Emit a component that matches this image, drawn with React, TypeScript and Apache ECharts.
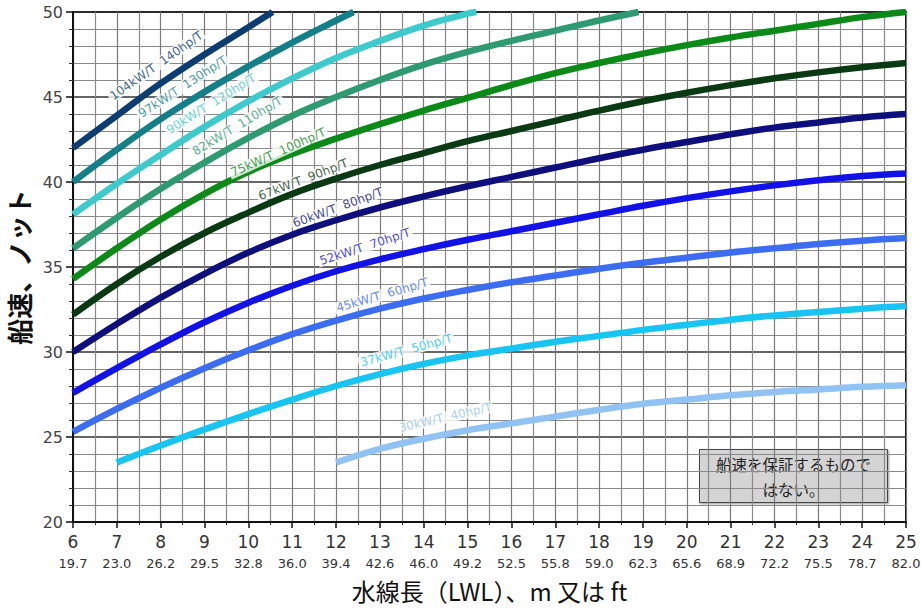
import React, { useEffect, useRef } from "react";
import * as echarts from "echarts";

const meterTicks = [6, 7, 8, 9, 10, 11, 12, 13, 14, 15, 16, 17, 18, 19, 20, 21, 22, 23, 24, 25];
const feetTicks = ["19.7", "23.0", "26.2", "29.5", "32.8", "36.0", "39.4", "42.6", "46.0", "49.2", "52.5", "55.8", "59.0", "62.3", "65.6", "68.9", "72.2", "75.5", "78.7", "82.0"];

const c104 = [[6, 42.0], [7, 43.9], [8, 45.8], [9, 47.5], [10, 49.1], [10.55, 50.0]];
const c97 = [[6, 40.0], [7, 41.9], [8, 43.7], [9, 45.3], [10, 46.8], [11, 48.2], [12, 49.5], [12.4, 50.0]];
const c90 = [[6, 38.1], [7, 39.9], [8, 41.6], [9, 43.25], [10, 44.75], [11, 46.1], [12, 47.3], [13, 48.3], [14, 49.2], [15, 49.9], [15.2, 50.0]];
const c82 = [[6, 36.1], [7, 37.9], [8, 39.6], [9, 41.15], [10, 42.6], [11, 43.9], [12, 45.0], [13, 46.0], [14, 46.9], [15, 47.65], [16, 48.3], [17, 48.9], [18, 49.5], [18.9, 50.0]];
const c75 = [[6, 34.3], [7, 36.1], [8, 37.8], [9, 39.3], [10, 40.6], [11, 41.65], [12, 42.55], [13, 43.4], [14, 44.2], [15, 44.95], [16, 45.7], [17, 46.4], [18, 47.0], [19, 47.55], [20, 48.05], [21, 48.5], [22, 48.9], [23, 49.3], [24, 49.7], [25, 50.0]];
const c67 = [[6, 32.2], [7, 34.0], [8, 35.6], [9, 37.0], [10, 38.2], [11, 39.3], [12, 40.2], [13, 41.0], [14, 41.7], [15, 42.4], [16, 43.0], [17, 43.6], [18, 44.2], [19, 44.75], [20, 45.25], [21, 45.7], [22, 46.1], [23, 46.45], [24, 46.75], [25, 47.0]];
const c60 = [[6, 30.0], [7, 31.65], [8, 33.2], [9, 34.6], [10, 35.85], [11, 36.9], [12, 37.75], [13, 38.5], [14, 39.15], [15, 39.75], [16, 40.3], [17, 40.85], [18, 41.4], [19, 41.9], [20, 42.35], [21, 42.8], [22, 43.2], [23, 43.5], [24, 43.8], [25, 44.0]];
const c52 = [[6, 27.6], [7, 29.05], [8, 30.45], [9, 31.75], [10, 32.9], [11, 33.9], [12, 34.75], [13, 35.45], [14, 36.05], [15, 36.6], [16, 37.1], [17, 37.6], [18, 38.1], [19, 38.6], [20, 39.05], [21, 39.45], [22, 39.8], [23, 40.1], [24, 40.35], [25, 40.5]];
const c45 = [[6, 25.3], [7, 26.65], [8, 27.9], [9, 29.05], [10, 30.1], [11, 31.05], [12, 31.85], [13, 32.55], [14, 33.15], [15, 33.65], [16, 34.1], [17, 34.5], [18, 34.9], [19, 35.25], [20, 35.55], [21, 35.85], [22, 36.1], [23, 36.35], [24, 36.55], [25, 36.7]];
const c37 = [[7, 23.5], [8, 24.5], [9, 25.45], [10, 26.35], [11, 27.2], [12, 28.0], [13, 28.7], [14, 29.3], [15, 29.8], [16, 30.2], [17, 30.6], [18, 30.95], [19, 31.3], [20, 31.6], [21, 31.9], [22, 32.15], [23, 32.35], [24, 32.55], [25, 32.7]];
const c30 = [[12, 23.5], [13, 24.3], [14, 24.9], [15, 25.4], [16, 25.8], [17, 26.2], [18, 26.6], [19, 26.95], [20, 27.2], [21, 27.45], [22, 27.65], [23, 27.8], [24, 27.95], [25, 28.05]];

const curveNames = ["104kW/T  140hp/T", "97kW/T  130hp/T", "90kW/T  120hp/T", "82kW/T  110hp/T", "75kW/T  100hp/T", "67kW/T  90hp/T", "60kW/T  80hp/T", "52kW/T  70hp/T", "45kW/T  60hp/T", "37kW/T  50hp/T", "30kW/T  40hp/T"];
const curveData = [c104, c97, c90, c82, c75, c67, c60, c52, c45, c37, c30];
const curveColors = ["#0b3d73", "#137f88", "#3ccacc", "#2e9a72", "#0b8a18", "#0a3a14", "#0e0e7c", "#1212e6", "#3b6cf2", "#18c4f2", "#90c2f4"];

// label anchor positions (data coords) and rotation
const labelPos = [[7.9, 46.85], [8.5, 45.6], [9.15, 44.6], [9.75, 43.3], [10.68, 41.75], [11.25, 40.15], [12.04, 38.5], [12.66, 36.2], [13.05, 33.35], [13.6, 30.1], [14.49, 26.15]];
const labelRot = [35, 33, 32, 31, 24, 21, 20, 18, 16, 15, 13];

export default function App() {
  const ref = useRef<HTMLDivElement>(null);
  useEffect(() => {
    if (!ref.current) return;
    const chart = echarts.init(ref.current, null, { renderer: "svg" });
    const lineSeries = curveData.map((d, i) => ({
      type: "line",
      name: curveNames[i],
      data: d,
      smooth: 0.4,
      showSymbol: false,
      symbol: "none",
      lineStyle: { color: curveColors[i], width: 6.5 },
      z: 3,
    }));
    const labelSeries = {
      type: "scatter",
      symbolSize: 0,
      z: 5,
      data: labelPos.map((p, i) => ({
        value: p,
        name: curveNames[i],
        label: {
          show: true,
          formatter: curveNames[i],
          rotate: labelRot[i],
          color: curveColors[i],
          fontSize: 12,
          fontFamily: "DejaVu Sans",
          backgroundColor: "#ffffff",
          padding: [0, 2],
          position: "inside",
        },
      })),
    };
    chart.setOption({
      animation: false,
      backgroundColor: "#ffffff",
      grid: {
        left: 73,
        right: 15,
        top: 12,
        bottom: 86,
        containLabel: false,
        outerBoundsMode: "none",
        show: true,
        borderColor: "#111",
        borderWidth: 2,
      },
      xAxis: {
        type: "value",
        min: 6,
        max: 25,
        interval: 1,
        name: "水線長（LWL）、m 又は ft",
        nameLocation: "middle",
        nameGap: 56,
        nameTextStyle: { fontSize: 24, color: "#111", fontFamily: "Noto Sans CJK JP" },
        axisLine: { show: true, onZero: false, lineStyle: { color: "#111", width: 2 } },
        axisTick: { show: true, length: 6, lineStyle: { color: "#111", width: 1.5 } },
        minorTick: { show: true, splitNumber: 2, length: 3, lineStyle: { color: "#333" } },
        splitLine: { show: true, lineStyle: { color: "#7a7a7a", width: 1.2 } },
        minorSplitLine: { show: true, lineStyle: { color: "#8a8a8a", width: 1.2 } },
        axisLabel: {
          margin: 9,
          formatter: (v: number) => {
            const idx = meterTicks.indexOf(Math.round(v));
            return `{a|${Math.round(v)}}\n{b|${feetTicks[idx] ?? ""}}`;
          },
          rich: {
            a: { fontSize: 17, color: "#333", fontFamily: "DejaVu Sans", lineHeight: 22 },
            b: { fontSize: 13, color: "#333", fontFamily: "DejaVu Sans", lineHeight: 20 },
          },
        },
      },
      yAxis: {
        type: "value",
        min: 20,
        max: 50,
        interval: 5,
        name: "船速、ノット",
        nameLocation: "middle",
        nameGap: 40,
        nameRotate: 90,
        nameTextStyle: { fontSize: 26, fontWeight: "bold", color: "#111", fontFamily: "Noto Sans CJK JP" },
        axisLine: { show: true, lineStyle: { color: "#111", width: 2 } },
        axisTick: { show: true, length: 7, lineStyle: { color: "#111", width: 1.5 } },
        minorTick: { show: true, splitNumber: 5, length: 4, lineStyle: { color: "#333" } },
        splitLine: { show: true, lineStyle: { color: "#333", width: 1.6 } },
        minorSplitLine: { show: true, lineStyle: { color: "#8a8a8a", width: 1.2 } },
        axisLabel: { fontSize: 16, color: "#444", fontFamily: "DejaVu Sans", margin: 10 },
      },
      series: [...lineSeries, labelSeries],
      graphic: [
        {
          type: "group",
          right: 33,
          bottom: 105,
          z: 10,
          children: [
            {
              type: "rect",
              shape: { x: 0, y: 0, width: 188, height: 53 },
              style: {
                fill: "#d4d4d4",
                stroke: "#444",
                lineWidth: 1,
                shadowBlur: 2,
                shadowOffsetX: 1,
                shadowOffsetY: 1,
                shadowColor: "rgba(0,0,0,0.4)",
              },
            },
            {
              type: "text",
              x: 94,
              y: 27,
              style: {
                text: "船速を保証するもので\nはない。",
                fontSize: 15.5,
                fill: "#222",
                align: "center",
                verticalAlign: "middle",
                lineHeight: 25,
                fontFamily: "Noto Sans CJK JP",
              },
            },
          ],
        },
      ],
    });
    return () => chart.dispose();
  }, []);
  return <div ref={ref} style={{ position: "fixed", left: 0, top: 0, width: 921, height: 608 }} />;
}
